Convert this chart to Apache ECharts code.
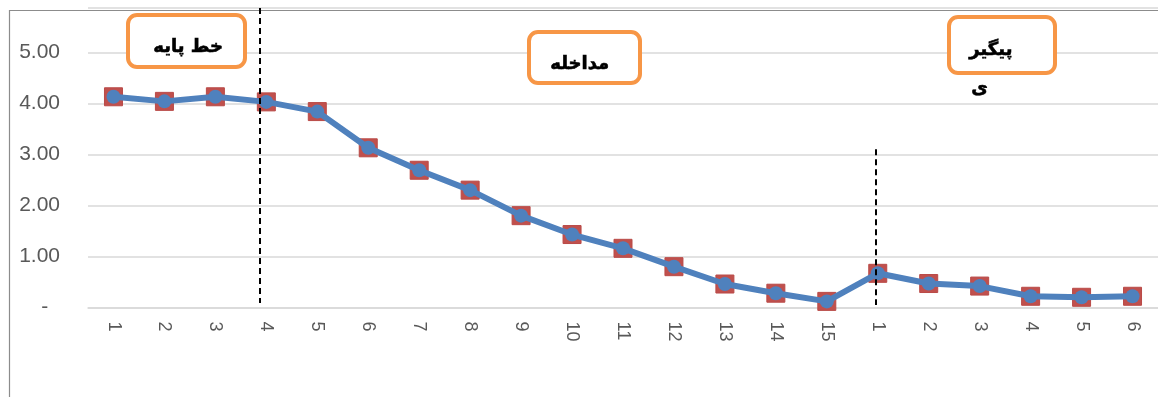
<!DOCTYPE html>
<html>
<head>
<meta charset="utf-8">
<script src="https://cdn.jsdelivr.net/npm/echarts@6/dist/echarts.min.js"></script>
<style>
html,body{margin:0;padding:0;background:#fff;}
#chart{width:1158px;height:397px;}
</style>
</head>
<body>
<div id="chart"></div>
<script>
// ---- data ----
const categories = ['1','2','3','4','5','6','7','8','9','10','11','12','13','14','15','1','2','3','4','5','6'];
const values = [4.13,4.04,4.13,4.03,3.84,3.13,2.69,2.30,1.80,1.43,1.16,0.80,0.46,0.28,0.12,0.67,0.47,0.42,0.22,0.20,0.22];
const phaseLabels = ['خط پایه', 'مداخله', 'پیگیر', 'ی'];
// phase divider lines in data units: [category position, from value, to value]
const dividerA = [3.88, 0.09, 5.87];
const dividerB = [15.97, 0.05, 3.1];
const yMax = 5.87;

const chart = echarts.init(document.getElementById('chart'), null, {renderer: 'canvas'});

function box(x, y, w, h) {
  return {
    type: 'rect', left: x, top: y, z: 10,
    shape: {width: w, height: h, r: 9},
    style: {fill: '#fff', stroke: '#f79646', lineWidth: 4}
  };
}
function label(text, x, y) {
  return {
    type: 'text', left: x, top: y, z: 11,
    style: {text: text, fill: '#000', stroke: '#000', lineWidth: 0.6, font: 'bold 18px "DejaVu Sans"'}
  };
}

const option = {
  animation: false,
  backgroundColor: '#fff',
  grid: {left: 88, top: 8, width: 1073, bottom: 89.5, containLabel: false},
  xAxis: [{
    type: 'category',
    data: categories,
    boundaryGap: true,
    axisLine: {show: true, lineStyle: {color: '#d9d9d9', width: 1.5}},
    axisTick: {show: false},
    axisLabel: {rotate: -90, interval: 0, fontSize: 18, color: '#595959', margin: 14, fontFamily: 'Liberation Sans'},
    splitLine: {show: false}
  }, {
    type: 'value', min: 0.5, max: 21.5, show: false
  }],
  yAxis: {
    type: 'value',
    min: 0, max: yMax, interval: 1,
    axisLine: {show: false},
    axisTick: {show: false},
    splitLine: {show: true, lineStyle: {color: '#d9d9d9', width: 1.5}},
    axisLabel: {
      fontSize: 21, color: '#595959', margin: 28, fontFamily: 'Liberation Sans',
      formatter: function (v) {
        if (v > 5.5) return '';
        if (v === 0) return '-  ';
        return v.toFixed(2);
      }
    }
  },
  series: [{
    type: 'line',
    data: values,
    symbol: 'rect',
    symbolSize: 18,
    itemStyle: {color: '#c0504d', borderColor: '#b94a47', borderWidth: 1},
    lineStyle: {opacity: 0, width: 0},
    z: 2
  }, {
    type: 'line',
    data: values,
    symbol: 'circle',
    symbolSize: 14,
    itemStyle: {color: '#4f81bd'},
    lineStyle: {color: '#4f81bd', width: 6},
    z: 3
  }, {
    type: 'line',
    xAxisIndex: 1,
    data: [],
    z: 4,
    markLine: {
      silent: true,
      symbol: ['none', 'none'],
      label: {show: false},
      lineStyle: {color: '#000', type: [6, 4], width: 2},
      data: [
        [{coord: [dividerA[0], dividerA[2]]}, {coord: [dividerA[0], dividerA[1]]}],
        [{coord: [dividerB[0], dividerB[2]]}, {coord: [dividerB[0], dividerB[1]]}]
      ]
    }
  }],
  graphic: [
    {type: 'rect', left: 7, top: 8, z: 0, silent: true,
     shape: {width: 1200, height: 387}, style: {fill: 'none', stroke: '#8c8c8c', lineWidth: 1.2}},
    box(126, 13, 117, 52),
    label(phaseLabels[0], 153, 38),
    box(527, 30, 111, 51),
    label(phaseLabels[1], 550, 55),
    box(947, 15, 106, 56),
    label(phaseLabels[2], 969, 41),
    label(phaseLabels[3], 971, 79)
  ]
};
chart.setOption(option);
</script>
</body>
</html>
